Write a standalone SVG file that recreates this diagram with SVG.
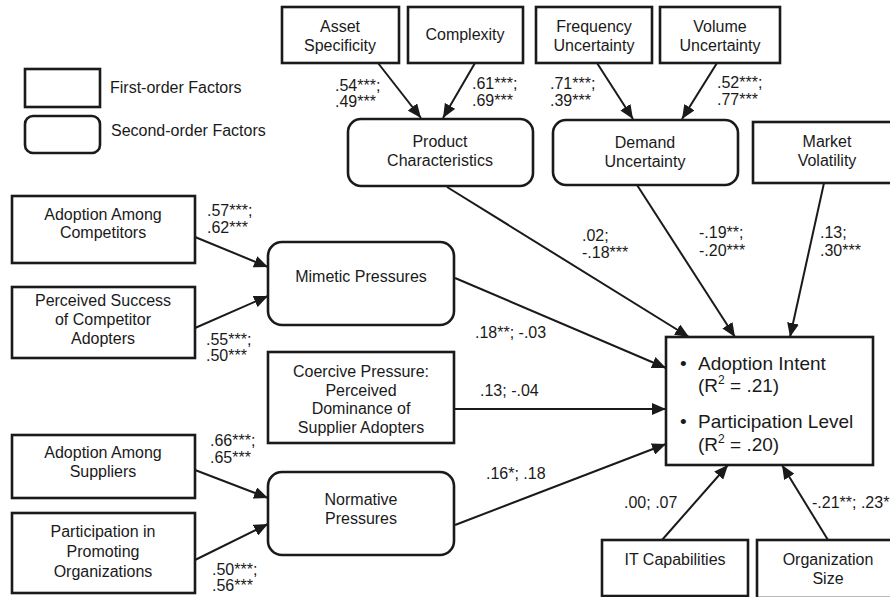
<svg xmlns="http://www.w3.org/2000/svg" width="890" height="597" viewBox="0 0 890 597">
<style>
.f{fill:#fff;stroke:#1a1a1a;stroke-width:2.6}
.s{fill:#fff;stroke:#1a1a1a;stroke-width:2.6}
.t{font-family:"Liberation Sans",Arial,sans-serif;font-size:16px;fill:#1a1a1a;text-anchor:middle}
.l{font-family:"Liberation Sans",Arial,sans-serif;font-size:16px;fill:#1a1a1a}
.big{font-family:"Liberation Sans",Arial,sans-serif;font-size:19px;fill:#1a1a1a}
.c{stroke:#1a1a1a;stroke-width:2;fill:none;marker-end:url(#ah)}
</style>
<defs>
<marker id="ah" markerUnits="userSpaceOnUse" markerWidth="14" markerHeight="12" viewBox="0 0 14 12" refX="14" refY="6" orient="auto">
<path d="M0,0 L14,6 L0,12 z" fill="#1a1a1a"/>
</marker>
</defs>
<rect width="890" height="597" fill="#fff"/>

<g id="legend">
<rect class="f" x="25" y="69" width="75" height="38"/>
<text class="l" x="110" y="93">First-order Factors</text>
<rect class="s" x="25" y="116" width="75" height="37" rx="8"/>
<text class="l" x="111" y="136">Second-order Factors</text>
</g>

<g id="asset-specificity">
<rect class="f" x="282" y="7" width="117" height="56"/>
<text class="t" x="340" y="32">Asset</text>
<text class="t" x="340" y="51">Specificity</text>
</g>
<g id="complexity">
<rect class="f" x="408" y="7" width="115" height="56"/>
<text class="t" x="465" y="40">Complexity</text>
</g>
<g id="frequency-uncertainty">
<rect class="f" x="536" y="7" width="116" height="56"/>
<text class="t" x="594" y="32">Frequency</text>
<text class="t" x="594" y="51">Uncertainty</text>
</g>
<g id="volume-uncertainty">
<rect class="f" x="660" y="7" width="120" height="56"/>
<text class="t" x="720" y="32">Volume</text>
<text class="t" x="720" y="51">Uncertainty</text>
</g>
<g id="product-characteristics">
<rect class="s" x="348" y="119" width="185" height="67" rx="13"/>
<text class="t" x="440" y="147">Product</text>
<text class="t" x="440" y="166">Characteristics</text>
</g>
<g id="demand-uncertainty">
<rect class="s" x="553" y="120" width="185" height="65" rx="13"/>
<text class="t" x="645" y="148">Demand</text>
<text class="t" x="645" y="167">Uncertainty</text>
</g>
<g id="market-volatility">
<rect class="f" x="753" y="122" width="150" height="61"/>
<text class="t" x="827" y="147">Market</text>
<text class="t" x="827" y="166">Volatility</text>
</g>

<g id="adoption-among-competitors">
<rect class="f" x="12" y="196" width="183" height="67"/>
<text class="t" x="103" y="220">Adoption Among</text>
<text class="t" x="103" y="238">Competitors</text>
</g>
<g id="perceived-success">
<rect class="f" x="12" y="287" width="183" height="71"/>
<text class="t" x="103" y="306">Perceived Success</text>
<text class="t" x="103" y="325">of Competitor</text>
<text class="t" x="103" y="344">Adopters</text>
</g>
<g id="mimetic-pressures">
<rect class="s" x="268" y="242" width="186" height="83" rx="14"/>
<text class="t" x="361" y="282">Mimetic Pressures</text>
</g>
<g id="coercive-pressure">
<rect class="f" x="268" y="352" width="186" height="91"/>
<text class="t" x="361" y="377">Coercive Pressure:</text>
<text class="t" x="361" y="396">Perceived</text>
<text class="t" x="361" y="414">Dominance of</text>
<text class="t" x="361" y="433">Supplier Adopters</text>
</g>
<g id="adoption-among-suppliers">
<rect class="f" x="12" y="435" width="183" height="63"/>
<text class="t" x="103" y="458">Adoption Among</text>
<text class="t" x="103" y="477">Suppliers</text>
</g>
<g id="participation-promoting">
<rect class="f" x="12" y="513" width="183" height="80"/>
<text class="t" x="103" y="537">Participation in</text>
<text class="t" x="103" y="557">Promoting</text>
<text class="t" x="103" y="577">Organizations</text>
</g>
<g id="normative-pressures">
<rect class="s" x="268" y="472" width="186" height="83" rx="14"/>
<text class="t" x="361" y="505">Normative</text>
<text class="t" x="361" y="524">Pressures</text>
</g>

<g id="outcome">
<rect class="f" x="666" y="337" width="207" height="128"/>
<text class="big" x="680" y="370">•<tspan x="698">Adoption Intent</tspan></text>
<text class="big" x="698" y="392">(R<tspan font-size="12" dy="-8">2</tspan><tspan dy="8"> = .21)</tspan></text>
<text class="big" x="680" y="428">•<tspan x="698">Participation Level</tspan></text>
<text class="big" x="698" y="451">(R<tspan font-size="12" dy="-8">2</tspan><tspan dy="8"> = .20)</tspan></text>
</g>
<g id="it-capabilities">
<rect class="f" x="602" y="540" width="146" height="56"/>
<text class="t" x="675" y="565">IT Capabilities</text>
</g>
<g id="organization-size">
<rect class="f" x="757" y="540" width="146" height="58"/>
<text class="t" x="828" y="565">Organization</text>
<text class="t" x="828" y="584">Size</text>
</g>

<g id="connectors">
<line class="c" x1="378" y1="63" x2="421" y2="118"/>
<line class="c" x1="475" y1="63" x2="443" y2="118"/>
<line class="c" x1="597" y1="63" x2="633" y2="119"/>
<line class="c" x1="717" y1="63" x2="682" y2="119"/>
<line class="c" x1="447" y1="187" x2="689" y2="337"/>
<line class="c" x1="637" y1="185" x2="735" y2="337"/>
<line class="c" x1="824" y1="183" x2="790" y2="337"/>
<line class="c" x1="195" y1="237" x2="268" y2="267"/>
<line class="c" x1="195" y1="328" x2="268" y2="296"/>
<line class="c" x1="195" y1="470" x2="268" y2="498"/>
<line class="c" x1="195" y1="560" x2="268" y2="524"/>
<line class="c" x1="455" y1="278" x2="666" y2="368"/>
<line class="c" x1="454" y1="409" x2="666" y2="409"/>
<line class="c" x1="455" y1="525" x2="666" y2="444"/>
<line class="c" x1="662" y1="540" x2="728" y2="465"/>
<line class="c" x1="828" y1="540" x2="782" y2="465"/>
</g>

<g id="labels">
<text class="l" x="335" y="91">.54***;</text>
<text class="l" x="335" y="107">.49***</text>
<text class="l" x="472" y="89">.61***;</text>
<text class="l" x="472" y="106">.69***</text>
<text class="l" x="550" y="89">.71***;</text>
<text class="l" x="550" y="106">.39***</text>
<text class="l" x="717" y="88">.52***;</text>
<text class="l" x="717" y="105">.77***</text>
<text class="l" x="582" y="241">.02;</text>
<text class="l" x="582" y="258">-.18***</text>
<text class="l" x="699" y="238">-.19**;</text>
<text class="l" x="699" y="256">-.20***</text>
<text class="l" x="820" y="238">.13;</text>
<text class="l" x="820" y="256">.30***</text>
<text class="l" x="207" y="216">.57***;</text>
<text class="l" x="207" y="233">.62***</text>
<text class="l" x="206" y="345">.55***;</text>
<text class="l" x="206" y="361">.50***</text>
<text class="l" x="210" y="446">.66***;</text>
<text class="l" x="210" y="463">.65***</text>
<text class="l" x="212" y="575">.50***;</text>
<text class="l" x="212" y="591">.56***</text>
<text class="l" x="475" y="338">.18**; -.03</text>
<text class="l" x="480" y="396">.13; -.04</text>
<text class="l" x="486" y="479">.16*; .18</text>
<text class="l" x="624" y="508">.00; .07</text>
<text class="l" x="812" y="508">-.21**; .23*</text>
</g>
</svg>
